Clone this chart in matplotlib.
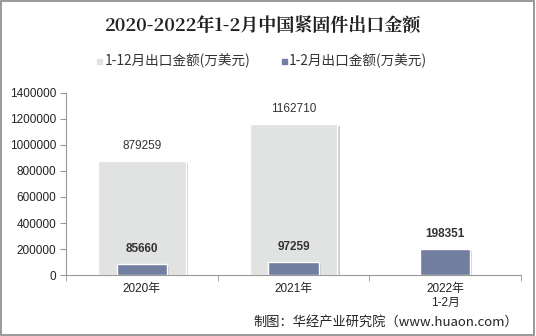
import numpy as np
import matplotlib.pyplot as plt
import matplotlib.patheffects as pe
from matplotlib.patches import Rectangle

plt.rcParams['font.family'] = ['Liberation Sans', 'Noto Sans CJK SC', 'DejaVu Sans']

categories = ['2020年', '2021年', '2022年\n1-2月']
full_year = [879259, 1162710, None]
jan_feb = [85660, 97259, 198351]
series_names = ['1-12月出口金额(万美元)', '1-2月出口金额(万美元)']

grey = '#e1e3e2'
slate = '#727ea0'

fig = plt.figure(figsize=(5.36, 3.36), dpi=100)
ax = fig.add_axes([66 / 536, 1 - 275 / 336, 455 / 536, 182 / 336])

x = np.arange(len(categories))
shadow = [pe.SimplePatchShadow(offset=(1.5, -1.5), shadow_rgbFace='#b0b0b0', alpha=0.6), pe.Normal()]

for i, v in enumerate(full_year):
    if v is None:
        continue
    b = ax.bar(x[i], v, width=0.58, color=grey, edgecolor='white', linewidth=1, zorder=2)
    b[0].set_path_effects(shadow)
    ax.text(x[i], v + 70000, f'{v}', ha='center', va='bottom', fontsize=8.5, color='#333333')

for i, v in enumerate(jan_feb):
    b = ax.bar(x[i], v, width=0.33, color=slate, edgecolor='white', linewidth=1, zorder=3)
    b[0].set_path_effects(shadow)
    ax.text(x[i], v + 70000, f'{v}', ha='center', va='bottom', fontsize=8.5,
            fontweight='bold', color='#333333')

ax.set_xlim(-0.5, 2.5)
ax.set_ylim(0, 1400000)
ax.set_yticks(np.arange(0, 1400001, 200000))
ax.set_yticklabels([str(t) for t in range(0, 1400001, 200000)], fontsize=8.5, color='#222222')
ax.set_xticks(x)
ax.set_xticklabels(categories, fontsize=8.5, color='#222222')
ax.tick_params(axis='x', length=0, pad=6)
ax.set_xticks([-0.5, 0.5, 1.5, 2.5], minor=True)
ax.tick_params(axis='x', which='minor', length=4, color='#999999')
ax.tick_params(axis='y', length=4, color='#999999', pad=3)
for s in ['top', 'right']:
    ax.spines[s].set_visible(False)
for s in ['left', 'bottom']:
    ax.spines[s].set_color('#999999')

fig.text(0.49, 1 - 27 / 336, '2020-2022年1-2月中国紧固件出口金额', ha='center', va='center',
         fontsize=13, fontweight='bold', family=['Noto Serif CJK SC', 'Noto Sans CJK SC'], color='#222222')

# legend
fig.patches.append(Rectangle((97 / 536, 1 - 64 / 336), 5 / 536, 5 / 336, transform=fig.transFigure,
                             color=grey, figure=fig))
fig.text(105 / 536, 1 - 61 / 336, series_names[0], ha='left', va='center', fontsize=9.8,
         color='#333333', family=['Noto Sans CJK SC', 'DejaVu Sans'])
fig.patches.append(Rectangle((282 / 536, 1 - 64 / 336), 5 / 536, 5 / 336, transform=fig.transFigure,
                             color=slate, figure=fig))
fig.text(289 / 536, 1 - 61 / 336, series_names[1], ha='left', va='center', fontsize=9.8,
         color='#333333', family=['Noto Sans CJK SC', 'DejaVu Sans'])

fig.text(518 / 536, 1 - 322 / 336, '制图：华经产业研究院（www.huaon.com）', ha='right', va='center',
         fontsize=9.5, color='#222222', family=['Noto Sans CJK SC', 'DejaVu Sans'])

fig.patches.append(Rectangle((0.002, 0.003), 0.995, 0.994, transform=fig.transFigure,
                             fill=False, edgecolor='#888888', linewidth=1.2, figure=fig))

fig.savefig('out.png', dpi=100)
